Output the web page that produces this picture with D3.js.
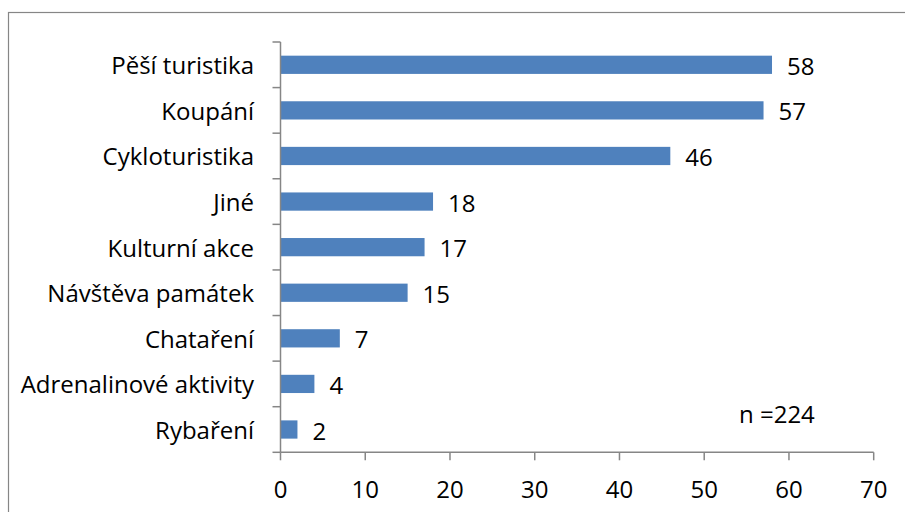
<!DOCTYPE html>
<html>
<head>
<meta charset="utf-8">
<script src="https://cdn.jsdelivr.net/npm/d3@7"></script>
<style>
  html, body { margin: 0; padding: 0; background: #fff; }
  svg { display: block; }
  text { font-family: "Open Sans", Lato, sans-serif; fill: #000; }
</style>
</head>
<body>
<svg id="chart" width="905" height="512"></svg>
<script>
const categories = ["Pěší turistika", "Koupání", "Cykloturistika", "Jiné", "Kulturní akce", "Návštěva památek", "Chataření", "Adrenalinové aktivity", "Rybaření"];
const values = [58, 57, 46, 18, 17, 15, 7, 4, 2];
const xTicks = [0, 10, 20, 30, 40, 50, 60, 70];
const note = "n =224";

const svg = d3.select("#chart");
const pLeft = 280.5, pRight = 873.7, pTop = 42, pBottom = 452.3;
const fs = 24;

svg.append("rect")
  .attr("x", 8.5).attr("y", 12.5)
  .attr("width", 1000).attr("height", 1000)
  .attr("fill", "#fff").attr("stroke", "#868686").attr("stroke-width", 1.2);

const x = d3.scaleLinear().domain([0, 70]).range([pLeft, pRight]);
const y = d3.scaleBand().domain(categories).range([pTop, pBottom]).paddingInner(0.6).paddingOuter(0.3);
const yb = d3.scaleBand().domain(categories).range([pTop, pBottom]);

svg.append("g").selectAll("rect").data(values).join("rect")
  .attr("x", x(0))
  .attr("y", (d, i) => y(categories[i]))
  .attr("width", d => x(d) - x(0))
  .attr("height", y.bandwidth())
  .attr("fill", "#4F81BD");

const axisColor = "#868686";
const yAxis = svg.append("g");
yAxis.append("line").attr("x1", pLeft).attr("x2", pLeft).attr("y1", pTop).attr("y2", pBottom)
  .attr("stroke", axisColor).attr("stroke-width", 1.5);
const bounds = categories.map(c => yb(c)).concat([pBottom]);
yAxis.selectAll("line.t").data(bounds).join("line").attr("class", "t")
  .attr("x1", pLeft - 8).attr("x2", pLeft).attr("y1", d => d).attr("y2", d => d)
  .attr("stroke", axisColor).attr("stroke-width", 1.5);
yAxis.selectAll("text").data(categories).join("text")
  .attr("x", 254).attr("y", d => yb(d) + yb.bandwidth() / 2)
  .attr("text-anchor", "end").attr("dominant-baseline", "central")
  .attr("font-size", fs).text(d => d);

const xAxis = svg.append("g");
xAxis.append("line").attr("x1", pLeft).attr("x2", pRight).attr("y1", pBottom).attr("y2", pBottom)
  .attr("stroke", axisColor).attr("stroke-width", 1.5);
xAxis.selectAll("line.t").data(xTicks).join("line").attr("class", "t")
  .attr("x1", d => x(d)).attr("x2", d => x(d)).attr("y1", pBottom).attr("y2", pBottom + 8)
  .attr("stroke", axisColor).attr("stroke-width", 1.5);
xAxis.selectAll("text").data(xTicks).join("text")
  .attr("x", d => x(d)).attr("y", 488)
  .attr("text-anchor", "middle").attr("dominant-baseline", "central")
  .attr("font-size", fs).text(d => d);

svg.append("g").selectAll("text").data(values).join("text")
  .attr("x", d => x(d) + 15)
  .attr("y", (d, i) => y(categories[i]) + y.bandwidth() / 2 + 0.5)
  .attr("dominant-baseline", "central")
  .attr("font-size", fs).text(d => d);

svg.append("text").attr("x", 739).attr("y", 413)
  .attr("dominant-baseline", "central").attr("font-size", fs).text(note);
</script>
</body>
</html>
